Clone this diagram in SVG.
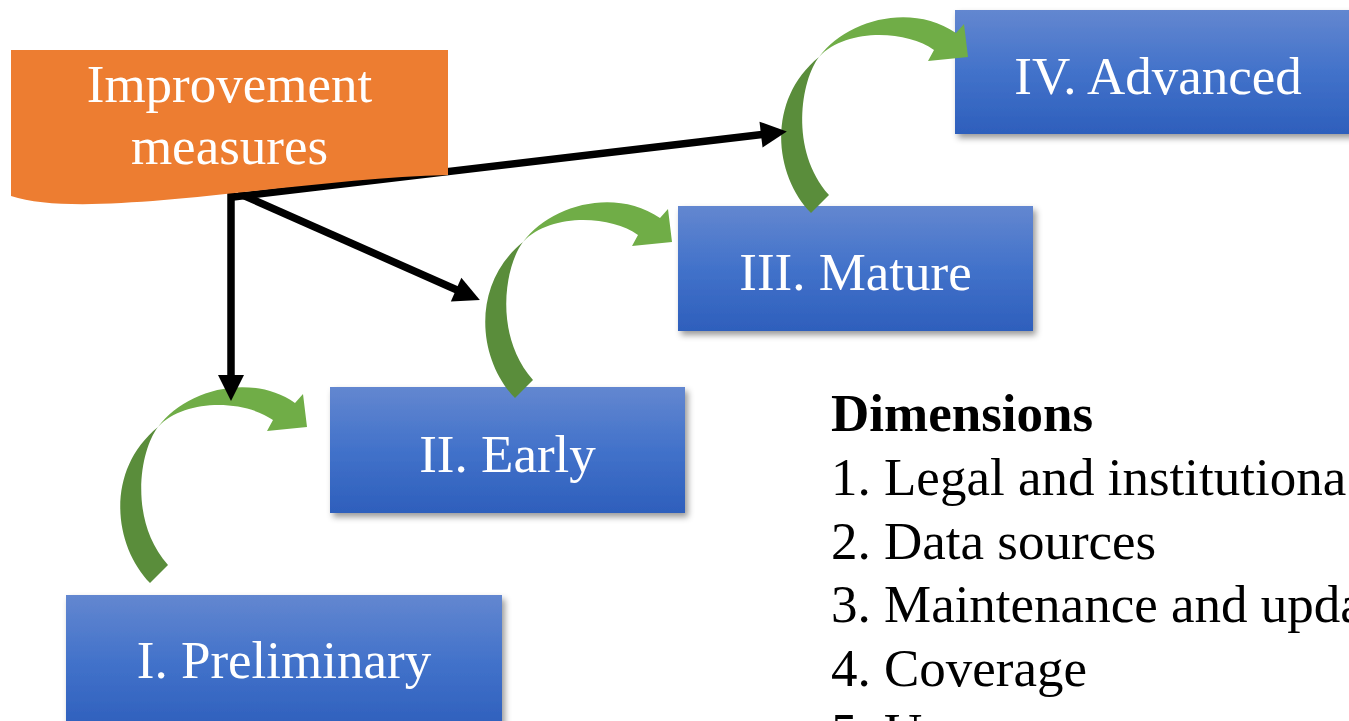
<svg xmlns="http://www.w3.org/2000/svg" width="1349" height="721" viewBox="0 0 1349 721">
<style>
.lbl{font-family:"Liberation Serif","Times New Roman",serif;font-size:53px;fill:#ffffff;text-anchor:middle}
.dim{font-family:"Liberation Serif","Times New Roman",serif;font-size:53px;fill:#000000}
.box{fill:url(#blueGrad);filter:url(#shadow)}
.conn{stroke:#000000;stroke-width:7.5;fill:none;marker-end:url(#head)}
.gA{fill:#5A8D3B}
.gB{fill:#70AD47}
</style>
<defs>
<linearGradient id="blueGrad" x1="0" y1="0" x2="0" y2="1">
<stop offset="0" stop-color="#6387D0"/>
<stop offset="0.5" stop-color="#4272CA"/>
<stop offset="1" stop-color="#2E5FBC"/>
</linearGradient>
<filter id="shadow" x="-10%" y="-10%" width="130%" height="140%">
<feDropShadow dx="3" dy="4" stdDeviation="3" flood-color="#000000" flood-opacity="0.4"/>
</filter>
<marker id="head" markerWidth="8" markerHeight="8" refX="0" refY="4" orient="auto" markerUnits="userSpaceOnUse" viewBox="0 0 8 8" overflow="visible">
<path d="M-1,-9 L25,4 L-1,17 Z" fill="#000000"/>
</marker>
<g id="curvedArrow">
<path class="gA" d="M150,583 C113,545 105,470 158,427 C140,450 128,520 168,565 Z"/>
<path class="gB" d="M158,427 C185,390 250,372 295,403 L303,394 L307,427 L267,431 L273,420 C245,400 185,398 158,427 Z"/>
</g>
</defs>

<g id="node-preliminary">
<rect class="box" x="66" y="595" width="436" height="135"/>
<text class="lbl" x="284" y="678">I. Preliminary</text>
</g>
<g id="node-early">
<rect class="box" x="330" y="387" width="355" height="126"/>
<text class="lbl" x="507.5" y="472">II. Early</text>
</g>
<g id="node-mature">
<rect class="box" x="678" y="206" width="355" height="125"/>
<text class="lbl" x="855.5" y="290">III. Mature</text>
</g>
<g id="node-advanced">
<rect class="box" x="955" y="10" width="410" height="124"/>
<text class="lbl" x="1158" y="94">IV. Advanced</text>
</g>

<g id="progress-arrows">
<use href="#curvedArrow"/>
<use href="#curvedArrow" transform="translate(365,-185)"/>
<use href="#curvedArrow" transform="translate(661,-370)"/>
</g>

<g id="connectors">
<line class="conn" x1="231" y1="185" x2="231" y2="376"/>
<line class="conn" x1="238" y1="193" x2="457" y2="290"/>
<line class="conn" x1="233" y1="197" x2="762" y2="134.5"/>
</g>

<g id="node-improvement">
<path d="M11,50 L448,50 L448,175 C300,178 90,222 11,196 Z" fill="#ED7D31"/>
<text class="lbl" x="229.5" y="102">Improvement</text>
<text class="lbl" x="229.5" y="164">measures</text>
</g>

<g id="dimensions">
<text class="dim" x="831" y="431" font-weight="bold">Dimensions</text>
<text class="dim" x="831" y="495">1. Legal and institutiona</text>
<text class="dim" x="831" y="558.5">2. Data sources</text>
<text class="dim" x="831" y="622">3. Maintenance and upda</text>
<text class="dim" x="831" y="686">4. Coverage</text>
<text class="dim" x="831" y="750">5. U</text>
</g>
</svg>
